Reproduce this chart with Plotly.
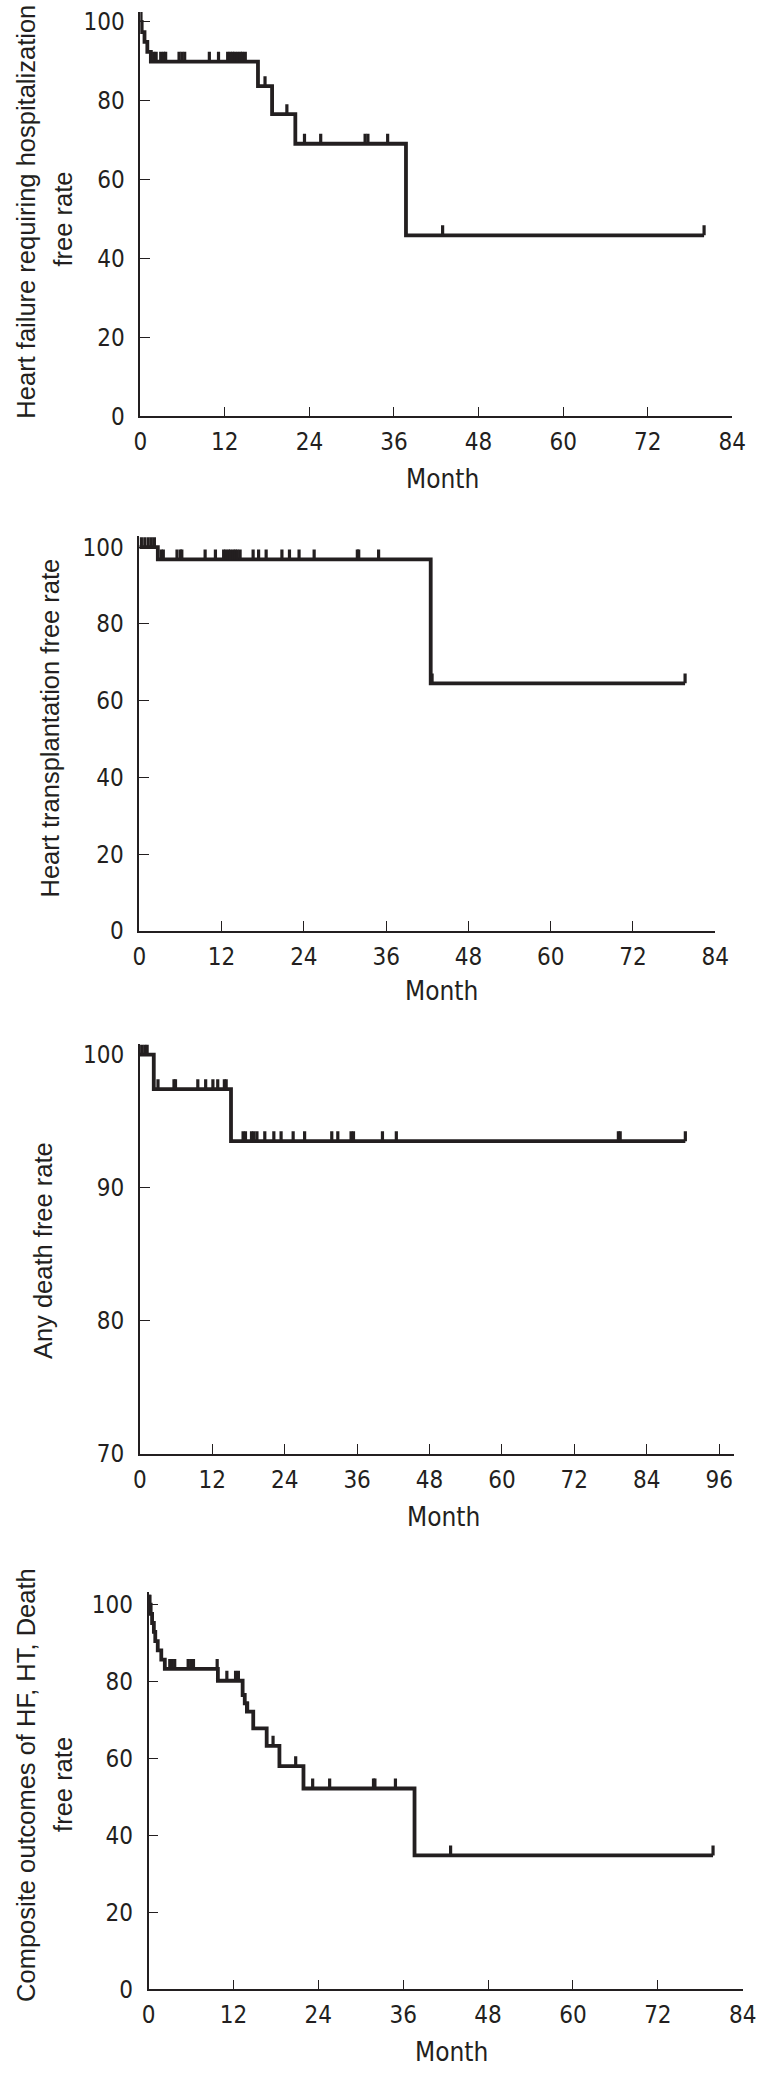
import plotly.graph_objects as go

W, H = 774, 2081

# ---------------- data (months, % free) ----------------
# Panel 1: Heart failure requiring hospitalization
hf_event_t = [0.2, 0.6, 1.0, 1.5, 16.7, 18.7, 22.0, 37.7]
hf_event_s = [97.4, 94.9, 92.4, 89.9, 83.7, 76.6, 69.1, 45.9]
hf_end = 80.0
hf_censor = [0.1, 1.9, 2.25, 2.9, 3.3, 3.6, 5.5, 5.9, 6.3, 9.8, 11.1, 12.4, 12.75,
             13.1, 13.4, 13.8, 14.2, 14.5, 14.9, 17.7, 20.8, 23.3, 25.6, 31.9,
             32.3, 35.1, 42.9, 80.0]

# Panel 2: Heart transplantation
ht_event_t = [2.7, 42.5]
ht_event_s = [96.8, 64.5]
ht_end = 79.6
ht_censor = [0.3, 0.8, 1.3, 1.75, 2.2, 3.2, 3.5, 5.5, 6.0, 6.2, 9.6, 11.1, 12.3,
             12.6, 13.0, 13.3, 13.7, 14.0, 14.3, 14.7, 16.6, 17.4, 18.5, 20.8,
             21.9, 23.3, 25.5, 31.8, 32.0, 34.9, 42.7, 79.6]

# Panel 3: Any death
d_event_t = [2.3, 15.1]
d_event_s = [97.4, 93.5]
d_end = 90.4
d_censor = [0.3, 0.8, 1.2, 3.0, 5.65, 5.9, 9.6, 10.9, 12.1, 12.9, 14.0, 14.3,
            17.1, 17.5, 18.5, 18.9, 19.4, 20.7, 22.2, 23.4, 25.4, 27.3, 31.8,
            32.8, 35.0, 35.4, 40.2, 42.5, 79.3, 79.6, 90.4]

# Panel 4: Composite outcomes of HF, HT, Death
c_event_t = [0.3, 0.5, 0.75, 0.95, 1.3, 1.8, 2.3, 9.8, 13.3, 13.6, 13.9, 14.8,
             16.7, 18.5, 21.9, 37.6]
c_event_s = [97.6, 95.2, 92.9, 90.5, 88.1, 85.7, 83.3, 80.2, 76.5, 74.3, 72.2,
             67.8, 63.3, 58.0, 52.2, 34.8]
c_end = 79.8
c_censor = [0.1, 0.2, 3.0, 3.35, 3.7, 5.6, 5.97, 6.35, 9.7, 11.07, 12.3, 12.7,
            14.0, 17.6, 20.8, 23.2, 25.6, 31.8, 32.0, 34.9, 42.7, 79.8]

x_ticks_84 = [0, 12, 24, 36, 48, 60, 72, 84]
x_ticks_96 = [0, 12, 24, 36, 48, 60, 72, 84, 96]
y_ticks_100 = [0, 20, 40, 60, 80, 100]
y_ticks_70 = [70, 80, 90, 100]

y_titles = [
    ["Heart failure requiring hospitalization", "free rate"],
    ["Heart transplantation free rate"],
    ["Any death free rate"],
    ["Composite outcomes of HF, HT, Death", "free rate"],
]
x_title = "Month"

# ---------------- layout geometry (pixels) ----------------
# (x_left_px, x_right_px, y_bottom_px, y_top_px, xrange, yrange)
geom = [
    (137.0, 745.5, 416.0, 8.0, [0, 84], [0, 102.5]),
    (136.0, 728.0, 935.0, 537.0, [0, 84], [0, 102.8]),
    (136.6, 747.5, 1462.7, 1049.0, [0, 98.5], [70, 100.8]),
    (145.5, 757.0, 2002.7, 1601.7, [0, 84.1], [0, 103.3]),
]
# y-title line centers (x_px, y_px) for each line
title_pos = [
    [(20, 209), (58, 217)],
    [(44, 730)],
    [(37, 1257)],
    [(20, 1796), (58, 1796)],
]
month_pos = [(448, 479), (447, 996), (448.5, 1526), (456.7, 2066)]

panels = [
    (hf_event_t, hf_event_s, hf_end, hf_censor, x_ticks_84, y_ticks_100),
    (ht_event_t, ht_event_s, ht_end, ht_censor, x_ticks_84, y_ticks_100),
    (d_event_t, d_event_s, d_end, d_censor, x_ticks_96, y_ticks_70),
    (c_event_t, c_event_s, c_end, c_censor, x_ticks_84, y_ticks_100),
]

INK = "#231f20"
NARROW = "DejaVu Sans Condensed, Liberation Sans, Arial, sans-serif"
REG = "Liberation Sans, Arial, Helvetica, sans-serif"


def step_value(ev_t, ev_s, t):
    s = 100.0
    for et, es in zip(ev_t, ev_s):
        if et <= t:
            s = es
    return s


fig = go.Figure()
annotations = []
layout_axes = {}

for i, (ev_t, ev_s, end_t, cens, xt, yt) in enumerate(panels):
    k = "" if i == 0 else str(i + 1)
    xl, xr, yb, ytp, xrng, yrng = geom[i]
    px_per_unit = (yb - ytp) / (yrng[1] - yrng[0])
    mark_h = 10.0 / px_per_unit

    xs = [0.0] + list(ev_t) + [end_t]
    ys = [100.0] + list(ev_s) + [ev_s[-1]]
    fig.add_trace(go.Scatter(
        x=xs, y=ys, mode="lines", line=dict(color=INK, width=3.8, shape="hv"),
        xaxis="x" + k, yaxis="y" + k, showlegend=False, hoverinfo="skip"))

    cx, cy = [], []
    for t in cens:
        s = step_value(ev_t, ev_s, t)
        cx += [t, t, None]
        cy += [s, s + mark_h, None]
    fig.add_trace(go.Scatter(
        x=cx, y=cy, mode="lines", line=dict(color=INK, width=3.2),
        xaxis="x" + k, yaxis="y" + k, showlegend=False, hoverinfo="skip"))

    layout_axes["xaxis" + k] = dict(
        domain=[xl / W, xr / W], range=xrng, anchor="y" + k,
        tickvals=xt, ticktext=[str(v) for v in xt],
        ticks="inside", ticklen=10, tickwidth=1.3, tickcolor=INK,
        showline=True, linewidth=1.6, linecolor=INK,
        showgrid=False, zeroline=False, ticklabelstandoff=3,
        tickfont=dict(family=NARROW, size=24, color=INK), fixedrange=True)
    layout_axes["yaxis" + k] = dict(
        domain=[1 - yb / H, 1 - ytp / H], range=yrng, anchor="x" + k,
        tickvals=yt, ticktext=[str(v) for v in yt],
        ticks="inside", ticklen=10, tickwidth=1.3, tickcolor=INK,
        showline=True, linewidth=1.6, linecolor=INK,
        showgrid=False, zeroline=False, ticklabelstandoff=9,
        tickfont=dict(family=NARROW, size=24, color=INK), fixedrange=True)

    for line_txt, (tx, ty) in zip(y_titles[i], title_pos[i]):
        annotations.append(dict(
            text=line_txt, x=tx / W, y=1 - ty / H, xref="paper", yref="paper",
            textangle=-90, showarrow=False, xanchor="center", yanchor="middle",
            font=dict(family=REG, size=25.5, color=INK)))
    mx, my = month_pos[i]
    annotations.append(dict(
        text=x_title, x=mx / W, y=1 - my / H, xref="paper", yref="paper",
        showarrow=False, xanchor="center", yanchor="middle",
        font=dict(family=NARROW, size=26, color=INK)))

fig.update_layout(
    width=W, height=H, margin=dict(l=0, r=0, t=0, b=0),
    paper_bgcolor="white", plot_bgcolor="white",
    annotations=annotations, showlegend=False, **layout_axes)

fig.write_html(
    "out.html", config={"displayModeBar": False},
    post_script="document.body.style.margin='0px';document.body.style.overflow='hidden';")
